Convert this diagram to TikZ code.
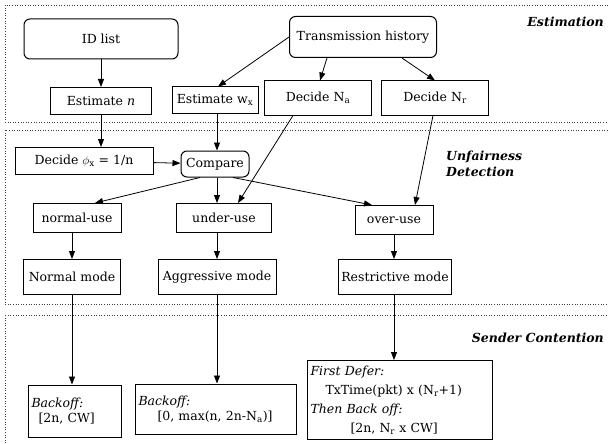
\documentclass[tikz,border=0pt]{standalone}
\usepackage{fontspec}
\setmainfont{DejaVu Serif}
\usetikzlibrary{positioning,arrows.meta}

\begin{document}
\begin{tikzpicture}[x=1pt, y=-1pt, >={Triangle[length=8pt,width=6pt]},
  font=\fontsize{12.5}{15}\selectfont,
  box/.style={draw, line width=1pt, inner sep=3pt, minimum height=27pt},
  rbox/.style={box, rounded corners=6pt},
  link/.style={->, line width=0.8pt},
  region/.style={draw=black!75, dotted, line width=0.6pt},
  tag/.style={font=\fontsize{12.5}{16}\selectfont\bfseries\itshape, inner sep=0pt}]
  \useasboundingbox (0,0) rectangle (608,444);

  % zones
  \draw[region] (5,5) rectangle (612,122);
  \draw[region] (5,130) rectangle (612,304);
  \draw[region] (5,315) rectangle (612,452);
  \node[tag, anchor=east] (lest) at (604,22) {Estimation};
  \node[tag, anchor=west, align=left] (lunf) at (446,164) {Unfairness\\Detection};
  \node[tag, anchor=east] (lsnd) at (604,338) {Sender Contention};

  % estimation
  \node[rbox, minimum width=154, minimum height=40] (idl) at (101,39) {ID list};
  \node[rbox, minimum width=147, minimum height=41] (trh) at (363,37) {Transmission history};
  \node[box, minimum width=101] (estn) at (101,101) {Estimate \textit{n}};
  \node[box, minimum width=86, minimum height=26] (estw) at (215,100) {Estimate w\textsubscript{x}};
  \node[box, minimum width=107, minimum height=34] (dna) at (318,98) {Decide N\textsubscript{a}};
  \node[box, minimum width=107, minimum height=34] (dnr) at (435,98) {Decide N\textsubscript{r}};

  % unfairness detection
  \node[box, minimum width=138] (dphi) at (84,161) {Decide $\phi$\textsubscript{x} = 1/n};
  \node[rbox, minimum width=68, minimum height=26] (cmp) at (215,164) {Compare};
  \node[box, minimum width=88, minimum height=29] (nuse) at (77,218) {normal-use};
  \node[box, minimum width=95, minimum height=29] (uuse) at (224,218) {under-use};
  \node[box, minimum width=78, minimum height=29] (ouse) at (394,220) {over-use};
  \node[box, minimum width=97, minimum height=35] (nmode) at (72,277) {Normal mode};
  \node[box, minimum width=118, minimum height=35] (amode) at (217,277) {Aggressive mode};
  \node[box, minimum width=113, minimum height=35] (rmode) at (395,277) {Restrictive mode};

  % sender contention
  \node[box, text width=87, minimum height=52, align=left] (bo1) at (75,411)
    {\textit{Backoff:}\\\hspace{7pt}\mbox{[2n, CW]}};
  \node[box, text width=155, minimum height=50, align=left] (bo2) at (216,409)
    {\textit{Backoff:}\\\hspace{19pt}\mbox{[0, max(n, 2n-N\textsubscript{a})]}};
  \node[box, text width=179, minimum height=79, align=left,
        font=\fontsize{12.5}{19}\selectfont] (fdf) at (400,400)
    {\textit{First Defer:}\\\hspace{15pt}\mbox{TxTime(pkt) x (N\textsubscript{r}+1)}\\
     \textit{Then Back off:}\\\hspace{40pt}\mbox{[2n, N\textsubscript{r} x CW]}};

  % connectors
  \draw[link] (idl) -- (idl |- estn.north);
  \draw[link] (trh.west) -- ([xshift=3pt]estw.north);
  \draw[link] ([xshift=-36pt]trh.south) -- ([xshift=2pt]dna.north);
  \draw[link] ([xshift=39pt]trh.south) -- (dnr.north);
  \draw[link] (estn) -- (estn |- dphi.north);
  \draw[link] ([xshift=2pt]estw.south) -- ([xshift=2pt]estw.south |- cmp.north);
  \draw[link] ([xshift=-25pt]dna.south) -- ([xshift=14pt]uuse.north);
  \draw[link] ([xshift=-2pt]dnr.south) -- ([xshift=21pt]ouse.north);
  \draw[link] (dphi) -- (cmp);
  \draw[link] ([xshift=-15pt]cmp.south) -- ([xshift=18pt]nuse.north);
  \draw[link] ([xshift=2pt]cmp.south) -- ([xshift=2pt]cmp.south |- uuse.north);
  \draw[link] ([xshift=18pt]cmp.south) -- ([xshift=-22pt]ouse.north);
  \draw[link] (nmode |- nuse.south) -- (nmode);
  \draw[link] (amode |- uuse.south) -- (amode);
  \draw[link] (ouse) -- (ouse |- rmode.north);
  \draw[link] (nmode) -- (nmode |- bo1.north);
  \draw[link] (amode) -- (amode |- bo2.north);
  \draw[link] ([xshift=-1pt]rmode.south) -- ([xshift=-1pt]rmode.south |- fdf.north);
\end{tikzpicture}
\end{document}
